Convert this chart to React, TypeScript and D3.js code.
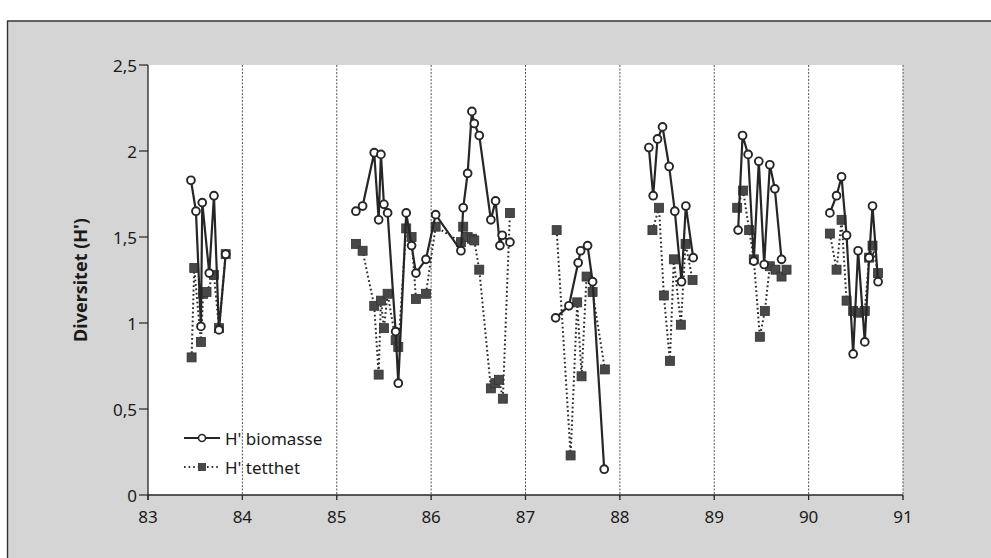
import React from "react";
import * as d3 from "d3";

// ---- Data (decimal year, Shannon diversity H') ----
const xTickValues = [83, 84, 85, 86, 87, 88, 89, 90, 91];
const yTickValues = [0, 0.5, 1, 1.5, 2, 2.5];
const gridYears = [84, 85, 86, 87, 88, 89, 90, 91];

// H' biomasse — one array per sampling season (line breaks between seasons)
const bioDates: number[][] = [
  [83.455, 83.508, 83.561, 83.575, 83.649, 83.699, 83.752, 83.823],
  [85.203, 85.274, 85.397, 85.444, 85.468, 85.5, 85.539, 85.624, 85.652, 85.736, 85.793, 85.839, 85.945, 86.048,
   86.316, 86.34, 86.387, 86.432, 86.457, 86.51, 86.633, 86.683, 86.729, 86.753, 86.835],
  [87.319, 87.46, 87.558, 87.584, 87.658, 87.711, 87.834],
  [88.307, 88.353, 88.399, 88.452, 88.522, 88.582, 88.653, 88.699, 88.777],
  [89.253, 89.3, 89.359, 89.419, 89.472, 89.529, 89.589, 89.642, 89.713],
  [90.225, 90.296, 90.349, 90.402, 90.472, 90.524, 90.595, 90.641, 90.677, 90.736],
];
const bioValues: number[][] = [
  [1.83, 1.65, 0.98, 1.7, 1.29, 1.74, 0.96, 1.4],
  [1.65, 1.68, 1.99, 1.6, 1.98, 1.69, 1.64, 0.95, 0.65, 1.64, 1.45, 1.29, 1.37, 1.63,
   1.42, 1.67, 1.87, 2.23, 2.16, 2.09, 1.6, 1.71, 1.45, 1.51, 1.47],
  [1.03, 1.1, 1.35, 1.42, 1.45, 1.24, 0.15],
  [2.02, 1.74, 2.07, 2.14, 1.91, 1.65, 1.24, 1.68, 1.38],
  [1.54, 2.09, 1.98, 1.36, 1.94, 1.34, 1.92, 1.78, 1.37],
  [1.64, 1.74, 1.85, 1.51, 0.82, 1.42, 0.89, 1.38, 1.68, 1.24],
];

// H' tetthet
const tetDates: number[][] = [
  [83.462, 83.49, 83.561, 83.585, 83.62, 83.699, 83.752, 83.823],
  [85.203, 85.274, 85.397, 85.444, 85.468, 85.5, 85.539, 85.624, 85.652, 85.736, 85.793, 85.839, 85.945, 86.048,
   86.316, 86.34, 86.387, 86.432, 86.457, 86.51, 86.633, 86.68, 86.72, 86.76, 86.835],
  [87.33, 87.478, 87.548, 87.594, 87.647, 87.711, 87.841],
  [88.345, 88.415, 88.466, 88.53, 88.572, 88.646, 88.696, 88.77],
  [89.243, 89.306, 89.37, 89.419, 89.483, 89.536, 89.589, 89.649, 89.713, 89.766],
  [90.225, 90.296, 90.349, 90.402, 90.472, 90.524, 90.595, 90.641, 90.677, 90.736],
];
const tetValues: number[][] = [
  [0.8, 1.32, 0.89, 1.17, 1.18, 1.28, 0.97, 1.4],
  [1.46, 1.42, 1.1, 0.7, 1.13, 0.97, 1.17, 0.9, 0.86, 1.55, 1.5, 1.14, 1.17, 1.56,
   1.47, 1.56, 1.5, 1.49, 1.48, 1.31, 0.62, 0.65, 0.67, 0.56, 1.64],
  [1.54, 0.23, 1.12, 0.69, 1.27, 1.18, 0.73],
  [1.54, 1.67, 1.16, 0.78, 1.37, 0.99, 1.46, 1.25],
  [1.67, 1.77, 1.54, 1.37, 0.92, 1.07, 1.33, 1.31, 1.27, 1.31],
  [1.52, 1.31, 1.6, 1.13, 1.07, 1.06, 1.07, 1.38, 1.45, 1.29],
];

const seriesNames = ["H' biomasse", "H' tetthet"];

const W = 991;
const H = 558;
const FONT = "'Noto Sans', 'Open Sans', sans-serif";

export default function App() {
  const x = d3.scaleLinear().domain([83, 91]).range([148, 903]);
  const y = d3.scaleLinear().domain([0, 2.5]).range([495, 65]);
  const line = d3
    .line<[number, number]>()
    .x((d) => x(d[0]))
    .y((d) => y(d[1]));

  const bio = bioDates.map((ds, i) => ds.map((d, j) => [d, bioValues[i][j]] as [number, number]));
  const tet = tetDates.map((ds, i) => ds.map((d, j) => [d, tetValues[i][j]] as [number, number]));

  const fmt = (v: number) => String(v).replace(".", ",");
  const sq = 9;
  const ink = "#262626";

  return (
    <svg
      width={W}
      height={H}
      style={{ position: "absolute", left: 0, top: 0, background: "#fff" }}
      fontFamily={FONT}
    >
      {/* gray halftone frame */}
      <rect x={7} y={21} width={W - 7} height={H - 21} fill="#d5d5d5" />
      <line x1={7} x2={W} y1={21} y2={21} stroke="#333" strokeWidth={1.6} />
      <line x1={7.5} x2={7.5} y1={21} y2={H} stroke="#333" strokeWidth={1.4} />

      {/* plot area */}
      <rect x={x(83)} y={y(2.5)} width={x(91) - x(83)} height={y(0) - y(2.5)} fill="#fff" />

      {/* vertical year lines */}
      {gridYears.map((g) => (
        <line
          key={g}
          x1={x(g)}
          x2={x(g)}
          y1={y(2.5)}
          y2={y(0) + 5}
          stroke="#555"
          strokeWidth={1}
          strokeDasharray="2,1.5"
        />
      ))}

      {/* axes */}
      <line x1={x(83)} x2={x(83)} y1={y(2.5)} y2={y(0) + 5} stroke={ink} strokeWidth={1.3} />
      <line x1={x(83)} x2={x(91)} y1={y(0)} y2={y(0)} stroke={ink} strokeWidth={1.3} />
      {xTickValues.map((t) => (
        <g key={t}>
          <line x1={x(t)} x2={x(t)} y1={y(0)} y2={y(0) + 5} stroke={ink} strokeWidth={1.2} />
          <text x={x(t)} y={y(0) + 28} textAnchor="middle" fontSize={17} fill="#1a1a1a">
            {t}
          </text>
        </g>
      ))}
      {yTickValues.map((t) => (
        <g key={t}>
          <line x1={x(83) - 9} x2={x(83)} y1={y(t)} y2={y(t)} stroke={ink} strokeWidth={1.2} />
          <text
            x={x(83) - 11}
            y={y(t)}
            textAnchor="end"
            dominantBaseline="central"
            fontSize={17}
            fill="#1a1a1a"
          >
            {fmt(t)}
          </text>
        </g>
      ))}
      <text
        transform={`translate(80, ${(y(0) + y(2.5)) / 2}) rotate(-90)`}
        textAnchor="middle"
        dominantBaseline="central"
        fontSize={18}
        fontWeight="bold"
        fill="#1a1a1a"
      >
        Diversitet (H')
      </text>

      {/* H' tetthet: dotted lines + squares */}
      {tet.map((seg, i) => (
        <path
          key={"tl" + i}
          d={line(seg) ?? ""}
          fill="none"
          stroke="#2e2e2e"
          strokeWidth={2}
          strokeDasharray="1.8,2.6"
        />
      ))}
      {tet.flat().map((p, i) => (
        <rect
          key={"ts" + i}
          x={x(p[0]) - sq / 2}
          y={y(p[1]) - sq / 2}
          width={sq}
          height={sq}
          fill="#484848"
          stroke="#333"
          strokeWidth={0.8}
        />
      ))}

      {/* H' biomasse: solid lines + open circles */}
      {bio.map((seg, i) => (
        <path key={"bl" + i} d={line(seg) ?? ""} fill="none" stroke={ink} strokeWidth={2.2} />
      ))}
      {bio.flat().map((p, i) => (
        <circle
          key={"bc" + i}
          cx={x(p[0])}
          cy={y(p[1])}
          r={3.9}
          fill="#fff"
          stroke={ink}
          strokeWidth={1.9}
        />
      ))}

      {/* legend */}
      <g>
        <line x1={184} x2={220} y1={438} y2={438} stroke={ink} strokeWidth={1.8} />
        <circle cx={202} cy={438} r={3.5} fill="#fff" stroke={ink} strokeWidth={1.6} />
        <text x={225} y={438} dominantBaseline="central" fontSize={17} fill="#1a1a1a">
          {seriesNames[0]}
        </text>
        <line
          x1={184}
          x2={220}
          y1={467}
          y2={467}
          stroke="#333"
          strokeWidth={2}
          strokeDasharray="1.6,3"
        />
        <rect x={202 - 4} y={467 - 4} width={8} height={8} fill="#484848" />
        <text x={225} y={467} dominantBaseline="central" fontSize={17} fill="#1a1a1a">
          {seriesNames[1]}
        </text>
      </g>
    </svg>
  );
}
